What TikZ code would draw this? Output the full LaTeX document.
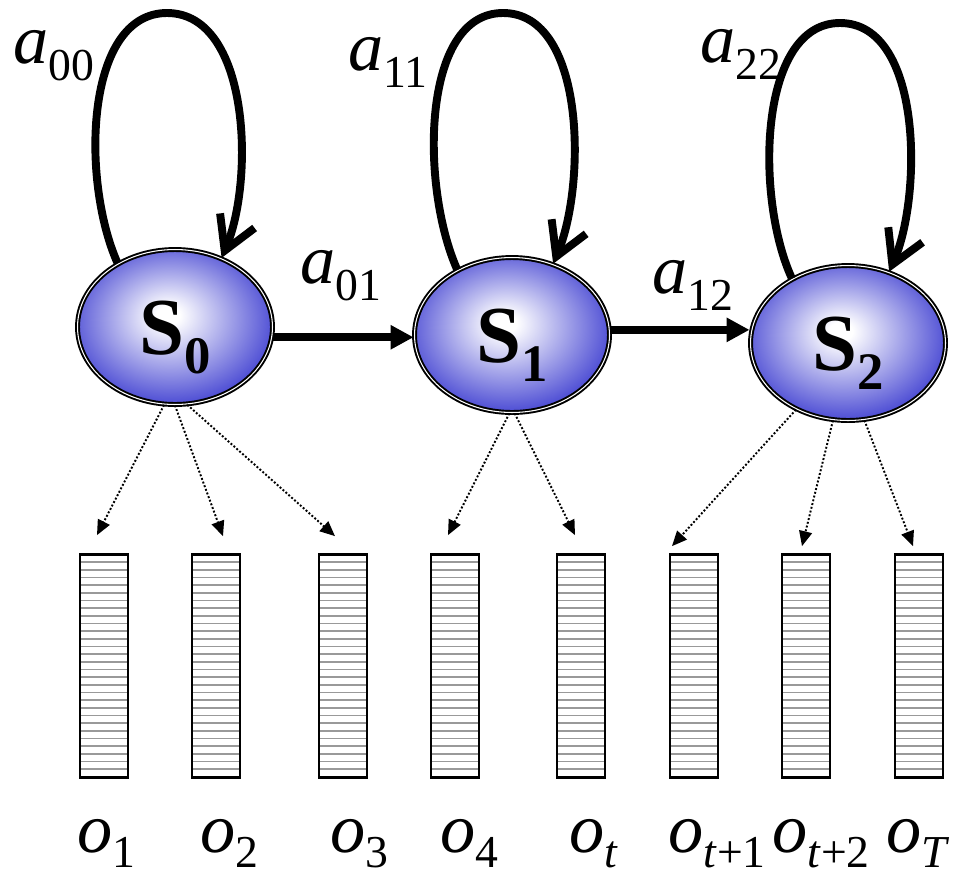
\documentclass[tikz,border=0pt]{standalone}
\usepackage{fontspec}
\setmainfont{Liberation Serif}
\usepackage{tikz}
\usetikzlibrary{arrows.meta, shapes.geometric, calc}
\definecolor{stateblue}{RGB}{52,52,206}
\pgfdeclareradialshading{ballshade}{\pgfpoint{-2bp}{4bp}}{color(0bp)=(white); color(3bp)=(white); color(30bp)=(stateblue); color(50bp)=(stateblue!88!black)}
\newcommand{\trp}[1]{\textit{a}\raisebox{-10pt}{\fontsize{26}{28}\selectfont #1}}
\newcommand{\obsv}[1]{\textit{o}\raisebox{-9pt}{\fontsize{26}{28}\selectfont #1}}
\newcommand{\stt}[1]{\textbf{S}\raisebox{-11pt}{\fontsize{30}{32}\selectfont\bfseries #1}}

\begin{document}
\begin{tikzpicture}[
        x=0.02cm, y=-0.02cm,
        state/.style = {ellipse, minimum width=3.9cm, minimum height=3.1cm, inner sep=0pt, draw=black, line width=1.1pt, double=white, double distance=0.6pt, shade, shading=ballshade, font=\fontsize{46}{54}\selectfont, text height=36pt, text depth=5pt},
        obs/.style   = {draw, line width=1.6pt, minimum width=0.96cm, minimum height=4.46cm, inner sep=0pt,
                        path picture={\foreach \k in {1,...,28} \draw[black!40, line width=0.9pt] ([yshift=-\k*0.1534cm]path picture bounding box.north west) -- ([yshift=-\k*0.1534cm]path picture bounding box.north east);}},
        lbl/.style   = {font=\fontsize{40}{48}\selectfont, inner sep=0pt, anchor=base west},
        selfloop/.style = {line width=4.5pt, -{Straight Barb[length=6.5mm, width=7.5mm]}},
        trans/.style = {line width=4.5pt, -{Triangle[length=4.6mm, width=4.6mm]}},
        emit/.style  = {line width=1.1pt, dash pattern=on 1.1pt off 1.1pt, -{Triangle[length=3mm, width=2.6mm]}},
    ]
        \useasboundingbox (0,0) rectangle (959,880);

        \node[state] (S0) at (175,327) {\stt{0}};
        \node[state] (S1) at (512,335) {\stt{1}};
        \node[state] (S2) at (848,343) {\stt{2}};

        \coordinate (top0) at (167,13);
        \coordinate (top1) at (503,13);
        \coordinate (top2) at (840,23);

        \node[obs] (o1) at (104,666) {};
        \node[obs] (o2) at (216,666) {};
        \node[obs] (o3) at (343,666) {};
        \node[obs] (o4) at (455,666) {};
        \node[obs] (o5) at (581,666) {};
        \node[obs] (o6) at (694,666) {};
        \node[obs] (o7) at (806,666) {};
        \node[obs] (o8) at (919,666) {};

        \node[lbl] (a00) at (13,63) {\trp{00}};
        \node[lbl] (a11) at (348,70) {\trp{11}};
        \node[lbl] (a22) at (700,62) {\trp{22}};
        \node[lbl] (a01) at (300,283) {\trp{01}};
        \node[lbl] (a12) at (652,293) {\trp{12}};

        \node[lbl] (l1) at (77,852) {\obsv{1}};
        \node[lbl] (l2) at (200,852) {\obsv{2}};
        \node[lbl] (l3) at (330,852) {\obsv{3}};
        \node[lbl] (l4) at (440,852) {\obsv{4}};
        \node[lbl] (l5) at (569,852) {\obsv{\textit{t}}};
        \node[lbl] (l6) at (668,852) {\obsv{\textit{t}+1}};
        \node[lbl] (l7) at (772,852) {\obsv{\textit{t}+2}};
        \node[lbl] (l8) at (886,852) {\obsv{\textit{T}}};

        \draw[selfloop] (S0.132) .. controls +(-37,-83) and +(-82,0) .. (top0) .. controls +(83,0) and +(33,-78) .. (S0.56);
        \draw[selfloop] (S1.130) .. controls +(-37,-83) and +(-82,0) .. (top1) .. controls +(83,0) and +(33,-78) .. (S1.60);
        \draw[selfloop] (S2.131) .. controls +(-37,-80) and +(-82,0) .. (top2) .. controls +(83,0) and +(33,-75) .. (S2.60);

        \draw[trans] (S0.-6) -- (S0.-6 -| S1.west);
        \draw[trans] (S1.3) -- (S1.3 -| S2.west);

        \draw[emit] (S0.262) -- ($(o1.north)+(-7,-18)$);
        \draw[emit] (S0.270) -- ($(o2.north)+(7,-17)$);
        \draw[emit] (S0.279) -- ($(o3.north)+(-8,-17)$);
        \draw[emit] (S1.268) -- ($(o4.north)+(-7,-18)$);
        \draw[emit] (S1.272) -- ($(o5.north)+(-6,-18)$);
        \draw[emit] (S2.232) -- ($(o6.north)+(-22,-7)$);
        \draw[emit] (S2.259) -- ($(o7.north)+(-4,-7)$);
        \draw[emit] (S2.282) -- ($(o8.north)+(-6,-7)$);
    \end{tikzpicture}
\end{document}
